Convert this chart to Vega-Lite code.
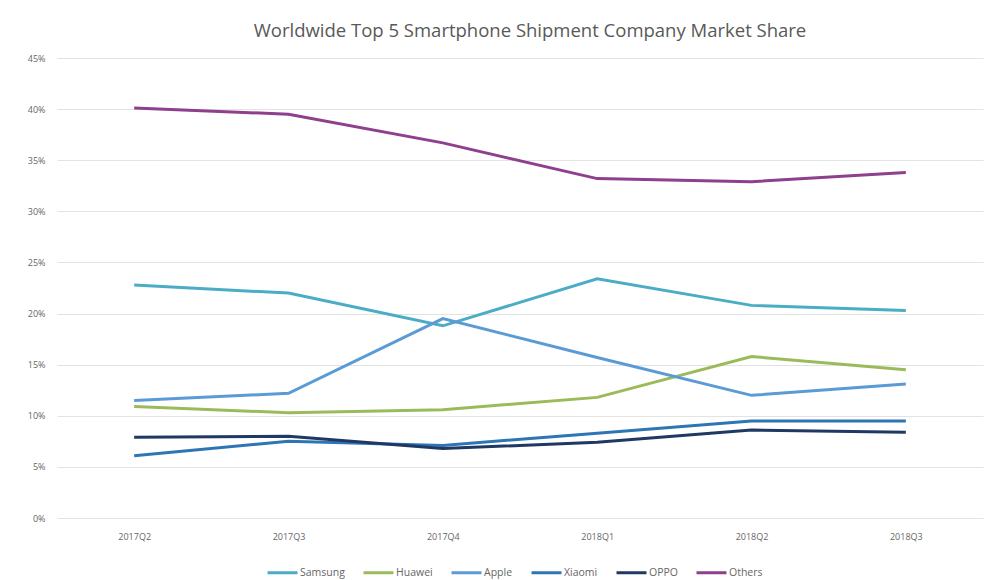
{
  "$schema": "https://vega.github.io/schema/vega-lite/v6.json",
  "width": 926,
  "height": 460,
  "autosize": {"type": "none"},
  "padding": {"left": 57, "top": 58, "right": 10, "bottom": 62},
  "background": "white",
  "title": {"text": "Worldwide Top 5 Smartphone Shipment Company Market Share", "font": "Open Sans", "fontSize": 18.5, "fontWeight": "normal", "color": "#595959", "anchor": "middle", "dx": 10, "offset": 14},
  "config": {"view": {"stroke": null}, "font": "Open Sans"},
  "data": {"values": [
    {"quarter": "2017Q2", "company": "Samsung", "share": 0.228},
    {"quarter": "2017Q3", "company": "Samsung", "share": 0.220},
    {"quarter": "2017Q4", "company": "Samsung", "share": 0.188},
    {"quarter": "2018Q1", "company": "Samsung", "share": 0.234},
    {"quarter": "2018Q2", "company": "Samsung", "share": 0.208},
    {"quarter": "2018Q3", "company": "Samsung", "share": 0.203},
    {"quarter": "2017Q2", "company": "Huawei", "share": 0.109},
    {"quarter": "2017Q3", "company": "Huawei", "share": 0.103},
    {"quarter": "2017Q4", "company": "Huawei", "share": 0.106},
    {"quarter": "2018Q1", "company": "Huawei", "share": 0.118},
    {"quarter": "2018Q2", "company": "Huawei", "share": 0.158},
    {"quarter": "2018Q3", "company": "Huawei", "share": 0.145},
    {"quarter": "2017Q2", "company": "Apple", "share": 0.115},
    {"quarter": "2017Q3", "company": "Apple", "share": 0.122},
    {"quarter": "2017Q4", "company": "Apple", "share": 0.195},
    {"quarter": "2018Q1", "company": "Apple", "share": 0.157},
    {"quarter": "2018Q2", "company": "Apple", "share": 0.120},
    {"quarter": "2018Q3", "company": "Apple", "share": 0.131},
    {"quarter": "2017Q2", "company": "Xiaomi", "share": 0.061},
    {"quarter": "2017Q3", "company": "Xiaomi", "share": 0.075},
    {"quarter": "2017Q4", "company": "Xiaomi", "share": 0.071},
    {"quarter": "2018Q1", "company": "Xiaomi", "share": 0.083},
    {"quarter": "2018Q2", "company": "Xiaomi", "share": 0.095},
    {"quarter": "2018Q3", "company": "Xiaomi", "share": 0.095},
    {"quarter": "2017Q2", "company": "OPPO", "share": 0.079},
    {"quarter": "2017Q3", "company": "OPPO", "share": 0.080},
    {"quarter": "2017Q4", "company": "OPPO", "share": 0.068},
    {"quarter": "2018Q1", "company": "OPPO", "share": 0.074},
    {"quarter": "2018Q2", "company": "OPPO", "share": 0.086},
    {"quarter": "2018Q3", "company": "OPPO", "share": 0.084},
    {"quarter": "2017Q2", "company": "Others", "share": 0.401},
    {"quarter": "2017Q3", "company": "Others", "share": 0.395},
    {"quarter": "2017Q4", "company": "Others", "share": 0.367},
    {"quarter": "2018Q1", "company": "Others", "share": 0.332},
    {"quarter": "2018Q2", "company": "Others", "share": 0.329},
    {"quarter": "2018Q3", "company": "Others", "share": 0.338}
  ]},
  "mark": {"type": "line", "strokeWidth": 3},
  "encoding": {
    "x": {"field": "quarter", "type": "ordinal", "title": null,
      "scale": {"type": "point", "padding": 0.5},
      "axis": {"domain": false, "ticks": false, "labelAngle": 0, "labelFontSize": 9, "labelColor": "#666666", "labelPadding": 14, "grid": false}},
    "y": {"field": "share", "type": "quantitative", "title": null,
      "scale": {"domain": [0, 0.45], "nice": false},
      "axis": {"format": ".0%", "values": [0, 0.05, 0.1, 0.15, 0.2, 0.25, 0.3, 0.35, 0.4, 0.45], "domain": false, "ticks": false, "labelFontSize": 9, "labelColor": "#666666", "labelPadding": 12, "gridColor": "#e3e3e3", "gridWidth": 1}},
    "color": {"field": "company", "type": "nominal", "title": null,
      "scale": {"domain": ["Samsung", "Huawei", "Apple", "Xiaomi", "OPPO", "Others"],
        "range": ["#4bacc6", "#9bbb59", "#5b9bd5", "#2e75b6", "#1f3864", "#8e3f8e"]},
      "legend": {"orient": "none", "legendX": 209, "legendY": 498, "direction": "horizontal", "symbolType": "stroke", "symbolStrokeWidth": 3, "symbolSize": 900, "labelFontSize": 10.5, "labelColor": "#666666", "columnPadding": 12, "labelOffset": 1}}
  }
}
